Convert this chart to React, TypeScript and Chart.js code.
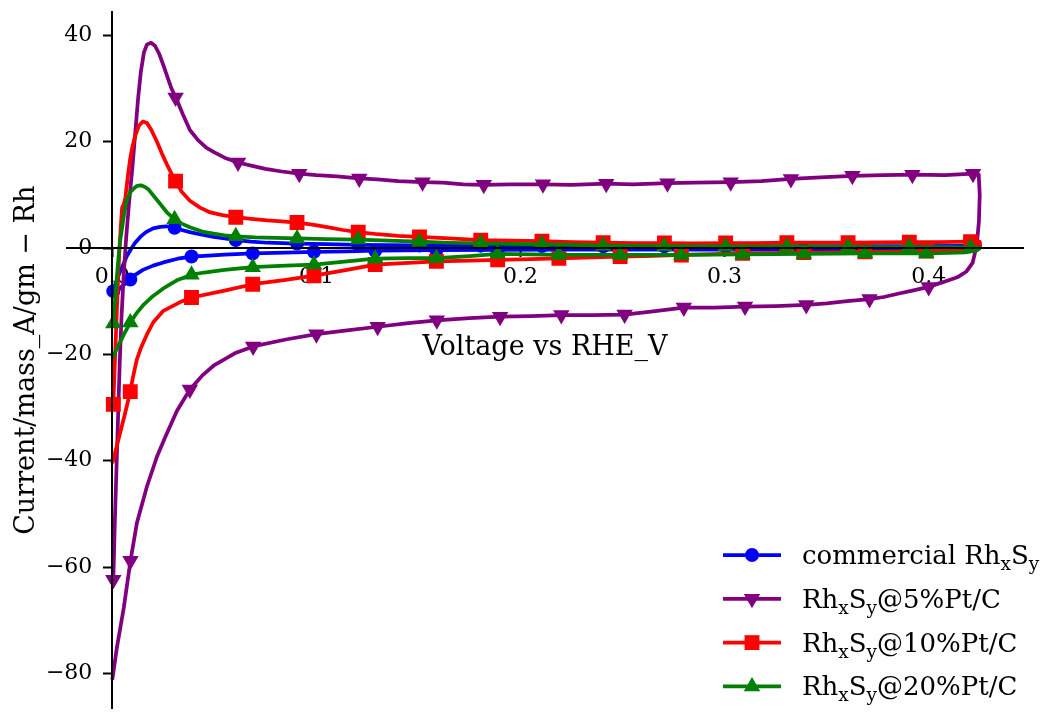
import React, { useEffect, useRef } from 'react';
import { Chart, registerables } from 'chart.js';

Chart.register(...registerables);

// ---------- axis data ----------
const xTicks = [0, 0.1, 0.2, 0.3, 0.4];
const xTickLabels = ['0.0', '0.1', '0.2', '0.3', '0.4'];
const yTicks = [-80, -60, -40, -20, 0, 20, 40];
const yTickLabels = ['\u221280', '\u221260', '\u221240', '\u221220', '0', '20', '40'];
const xRange = [-0.0222, 0.4462];
const yRange = [-86.6, 44.4];
const xTitle = 'Voltage vs RHE_V';
const yTitle = 'Current/mass_A/gm \u2212 Rh';

// ---------- series data (voltage V, current A/g) ----------
const commercialCurve: number[][] = [
  [0.0005, -8.1], [0.0015, -6.8], [0.003, -5.2], [0.0045, -3.8], [0.0056, -2.9], [0.007, -1.6], [0.0088, -0.4],
  [0.011, 0.9], [0.0137, 2.1], [0.0165, 3.0], [0.02, 3.7], [0.0235, 4.0], [0.0268, 4.1], [0.0305, 3.8],
  [0.034, 3.4], [0.038, 3.0], [0.044, 2.5], [0.0497, 2.1], [0.055, 1.8], [0.0605, 1.5], [0.068, 1.2],
  [0.076, 1.0], [0.0905, 0.85], [0.105, 0.75], [0.1205, 0.6], [0.135, 0.55], [0.1505, 0.5], [0.165, 0.45],
  [0.1805, 0.45], [0.195, 0.4], [0.2105, 0.4], [0.2405, 0.35], [0.2705, 0.35], [0.3005, 0.35], [0.3305, 0.35],
  [0.3605, 0.35], [0.3905, 0.35], [0.4205, 0.4], [0.425, 0.4],
  [0.4248, 0.0], [0.422, -0.2], [0.41, -0.25], [0.3988, -0.3], [0.3688, -0.3], [0.3388, -0.3], [0.3088, -0.3],
  [0.2788, -0.3], [0.2488, -0.3], [0.2188, -0.3], [0.1888, -0.35], [0.1588, -0.4], [0.1288, -0.5], [0.115, -0.6],
  [0.0988, -0.7], [0.085, -0.85], [0.0688, -1.0], [0.055, -1.25], [0.045, -1.45], [0.0388, -1.6], [0.032, -2.0],
  [0.025, -2.7], [0.02, -3.3], [0.015, -4.1], [0.011, -5.1], [0.0088, -5.9], [0.006, -6.8], [0.003, -7.8], [0.0, -8.6],
];
const commercialMarkers: number[][] = [
  [0.0005, -8.1], [0.0305, 3.8], [0.0605, 1.5], [0.0905, 0.85], [0.1205, 0.6], [0.1505, 0.5], [0.1805, 0.45],
  [0.2105, 0.4], [0.2405, 0.35], [0.2705, 0.35], [0.3005, 0.35], [0.3305, 0.35], [0.3605, 0.35], [0.3905, 0.35],
  [0.4205, 0.4], [0.3988, -0.3], [0.3688, -0.3], [0.3388, -0.3], [0.3088, -0.3], [0.2788, -0.3], [0.2488, -0.3],
  [0.2188, -0.3], [0.1888, -0.35], [0.1588, -0.4], [0.1288, -0.5], [0.0988, -0.7], [0.0688, -1.0], [0.0388, -1.6],
  [0.0088, -5.9],
];

const pt5Curve: number[][] = [
  [0.0005, -62.4], [0.0012, -52], [0.002, -42], [0.0028, -32], [0.0036, -22], [0.0045, -13], [0.0056, -5],
  [0.0068, 2], [0.0082, 8.5], [0.0098, 15], [0.0113, 21.9], [0.0126, 28], [0.014, 33.2], [0.0155, 36.8],
  [0.017, 38.3], [0.019, 38.6], [0.021, 38.0], [0.023, 36.5], [0.025, 34.4], [0.027, 32.2], [0.029, 30.0],
  [0.0317, 27.8], [0.0345, 25.2], [0.038, 22.2], [0.042, 20.3], [0.046, 18.9], [0.05, 18.0], [0.055, 17.0],
  [0.0616, 16.1], [0.068, 15.5], [0.075, 14.9], [0.083, 14.4], [0.0916, 14.0], [0.1, 13.7], [0.11, 13.5],
  [0.121, 13.1], [0.13, 12.9], [0.14, 12.6], [0.152, 12.4], [0.162, 12.3], [0.172, 12.0], [0.182, 11.9],
  [0.195, 12.0], [0.211, 12.0], [0.225, 11.9], [0.242, 12.1], [0.255, 12.0], [0.272, 12.2], [0.285, 12.3],
  [0.303, 12.4], [0.318, 12.6], [0.3325, 13.0], [0.347, 13.3], [0.3626, 13.6], [0.378, 13.7], [0.392, 13.8],
  [0.408, 13.7], [0.4217, 14.0], [0.4245, 13.8], [0.425, 10.0], [0.4246, 5.0], [0.4235, 0.5], [0.4215, -2.8],
  [0.4185, -4.4], [0.414, -5.5], [0.408, -6.3], [0.4, -7.3], [0.392, -8.0], [0.386, -8.5], [0.378, -9.2],
  [0.371, -9.6], [0.36, -10.0], [0.35, -10.4], [0.34, -10.7], [0.325, -10.9], [0.31, -11.0], [0.295, -11.2],
  [0.28, -11.2], [0.265, -11.9], [0.251, -12.5], [0.235, -12.6], [0.22, -12.6], [0.205, -12.8], [0.19, -12.9],
  [0.175, -13.2], [0.159, -13.6], [0.145, -14.1], [0.13, -14.8], [0.115, -15.5], [0.1, -16.2], [0.085, -17.2],
  [0.069, -18.5], [0.06, -19.8], [0.05, -22.0], [0.044, -24.0], [0.038, -26.6], [0.0317, -30.6], [0.026, -35.5],
  [0.0219, -39.2], [0.017, -44.8], [0.0121, -51.6], [0.0089, -58.8], [0.0056, -67.7], [0.0023, -75.0], [0.0, -81.2],
];
const pt5Markers: number[][] = [
  [0.0005, -62.4], [0.031, 28.3], [0.0616, 16.1], [0.0916, 14.0], [0.121, 13.1], [0.152, 12.4], [0.182, 11.9],
  [0.211, 12.0], [0.242, 12.1], [0.272, 12.2], [0.303, 12.4], [0.3325, 13.0], [0.3626, 13.6], [0.392, 13.8],
  [0.4217, 14.0], [0.4, -7.3], [0.371, -9.6], [0.34, -10.7], [0.31, -11.0], [0.28, -11.2], [0.251, -12.5],
  [0.22, -12.6], [0.19, -12.9], [0.159, -13.6], [0.13, -14.8], [0.1, -16.2], [0.069, -18.5], [0.038, -26.6],
  [0.0089, -58.8],
];

const pt10Curve: number[][] = [
  [0.0005, -29.4], [0.0012, -22], [0.002, -14], [0.0028, -6], [0.0036, 0.5], [0.0044, 5.5], [0.0048, 7.6],
  [0.0056, 8.2], [0.0064, 9.5], [0.0076, 13.5], [0.0088, 16.9], [0.01, 19.3], [0.0113, 21.2], [0.013, 23.0],
  [0.015, 23.8], [0.017, 23.5], [0.019, 22.3], [0.0219, 20.0], [0.0245, 17.6], [0.0268, 15.7], [0.029, 14.0],
  [0.031, 12.6], [0.034, 10.6], [0.038, 8.9], [0.043, 7.6], [0.048, 6.7], [0.054, 6.2], [0.0605, 5.8],
  [0.068, 5.5], [0.076, 5.2], [0.083, 5.0], [0.0905, 4.8], [0.098, 4.4], [0.106, 3.9], [0.113, 3.4],
  [0.1205, 3.0], [0.13, 2.6], [0.14, 2.3], [0.1505, 2.1], [0.165, 1.8], [0.1805, 1.5], [0.195, 1.4],
  [0.2105, 1.3], [0.225, 1.1], [0.2405, 1.0], [0.255, 0.95], [0.2705, 0.95], [0.285, 0.9], [0.3005, 0.95],
  [0.315, 0.95], [0.3305, 1.0], [0.345, 1.0], [0.3605, 1.0], [0.375, 1.05], [0.3905, 1.1], [0.405, 1.1],
  [0.4205, 1.2], [0.425, 1.2], [0.4252, 0.3], [0.4235, -0.2], [0.42, -0.4], [0.41, -0.5], [0.3988, -0.55],
  [0.385, -0.65], [0.3688, -0.7], [0.355, -0.8], [0.3388, -0.85], [0.325, -0.95], [0.3088, -1.0], [0.295, -1.15],
  [0.2788, -1.3], [0.265, -1.45], [0.2488, -1.6], [0.235, -1.75], [0.2188, -1.95], [0.205, -2.1], [0.1888, -2.2],
  [0.175, -2.35], [0.1588, -2.5], [0.145, -2.8], [0.1288, -3.1], [0.115, -4.1], [0.0988, -5.2], [0.085, -6.0],
  [0.0688, -6.8], [0.055, -8.0], [0.0388, -9.3], [0.033, -10.2], [0.025, -11.8], [0.02, -14.0], [0.017, -16.2],
  [0.014, -18.8], [0.012, -21.0], [0.01, -24.5], [0.0088, -27.0], [0.006, -31.5], [0.003, -36.0], [0.0, -40.5],
];
const pt10Markers: number[][] = [
  [0.0005, -29.4], [0.031, 12.6], [0.0605, 5.8], [0.0905, 4.8], [0.1205, 3.0], [0.1505, 2.1], [0.1805, 1.5],
  [0.2105, 1.3], [0.2405, 1.0], [0.2705, 0.95], [0.3005, 0.95], [0.3305, 1.0], [0.3605, 1.0], [0.3905, 1.1],
  [0.4205, 1.2], [0.3988, -0.55], [0.3688, -0.7], [0.3388, -0.85], [0.3088, -1.0], [0.2788, -1.3], [0.2488, -1.6],
  [0.2188, -1.95], [0.1888, -2.2], [0.1588, -2.5], [0.1288, -3.1], [0.0988, -5.2], [0.0688, -6.8], [0.0388, -9.3],
  [0.0088, -27.0],
];

const pt20Curve: number[][] = [
  [0.0005, -14.2], [0.0013, -10], [0.0022, -5.5], [0.0032, -1], [0.004, 1.8], [0.0047, 3.6], [0.0058, 6.5],
  [0.0072, 9.2], [0.0088, 10.5], [0.0105, 11.2], [0.0122, 11.7], [0.014, 11.8], [0.016, 11.5], [0.0178, 11.0],
  [0.0205, 9.7], [0.0235, 8.3], [0.027, 6.6], [0.0305, 5.4], [0.034, 4.6], [0.038, 3.9], [0.044, 3.1],
  [0.0497, 2.7], [0.055, 2.4], [0.0605, 2.2], [0.07, 2.0], [0.08, 1.9], [0.0905, 1.8], [0.105, 1.7],
  [0.1205, 1.6], [0.135, 1.4], [0.1505, 1.2], [0.165, 1.0], [0.1805, 0.9], [0.195, 0.8], [0.2105, 0.7],
  [0.225, 0.6], [0.2405, 0.45], [0.255, 0.4], [0.2705, 0.35], [0.285, 0.3], [0.3005, 0.3], [0.315, 0.25],
  [0.3305, 0.25], [0.345, 0.25], [0.3605, 0.2], [0.375, 0.2], [0.3905, 0.2], [0.405, 0.2], [0.4205, 0.15],
  [0.425, 0.15], [0.4248, -0.1], [0.423, -0.5], [0.418, -0.8], [0.41, -0.9], [0.3988, -1.0], [0.385, -1.0],
  [0.3688, -1.0], [0.355, -1.05], [0.3388, -1.1], [0.325, -1.15], [0.3088, -1.2], [0.295, -1.25], [0.2788, -1.3],
  [0.265, -1.3], [0.2488, -1.3], [0.235, -1.3], [0.2188, -1.3], [0.205, -1.2], [0.1888, -1.1], [0.175, -1.5],
  [0.1588, -1.9], [0.145, -1.9], [0.1288, -2.0], [0.115, -2.5], [0.0988, -3.1], [0.085, -3.3], [0.0688, -3.6],
  [0.055, -4.1], [0.045, -4.6], [0.0388, -5.0], [0.032, -6.0], [0.025, -7.6], [0.02, -9.0], [0.015, -10.8],
  [0.012, -12.2], [0.0088, -14.0], [0.006, -16.0], [0.003, -18.3], [0.0, -20.7],
];
const pt20Markers: number[][] = [
  [0.0005, -14.2], [0.0305, 5.4], [0.0605, 2.2], [0.0905, 1.8], [0.1205, 1.6], [0.1505, 1.2], [0.1805, 0.9],
  [0.2105, 0.7], [0.2405, 0.45], [0.2705, 0.35], [0.3005, 0.3], [0.3305, 0.25], [0.3605, 0.2], [0.3905, 0.2],
  [0.4205, 0.15], [0.3988, -1.0], [0.3688, -1.0], [0.3388, -1.1], [0.3088, -1.2], [0.2788, -1.3], [0.2488, -1.3],
  [0.2188, -1.3], [0.1888, -1.1], [0.1588, -1.9], [0.1288, -2.0], [0.0988, -3.1], [0.0688, -3.6], [0.0388, -5.0],
  [0.0088, -14.0],
];

// legend labels: [text, isSubscript]
const legendLabels: [string, boolean][][] = [
  [['commercial Rh', false], ['x', true], ['S', false], ['y', true]],
  [['Rh', false], ['x', true], ['S', false], ['y', true], ['@5%Pt/C', false]],
  [['Rh', false], ['x', true], ['S', false], ['y', true], ['@10%Pt/C', false]],
  [['Rh', false], ['x', true], ['S', false], ['y', true], ['@20%Pt/C', false]],
];

const FONT = "'DejaVu Serif', 'Liberation Serif', serif";

type SeriesDef = {
  curve: number[][];
  markers: number[][];
  color: string;
  style: string;
  rotation: number;
  radius: number;
};

const seriesDefs: SeriesDef[] = [
  { curve: commercialCurve, markers: commercialMarkers, color: '#0000ff', style: 'circle', rotation: 0, radius: 7 },
  { curve: pt5Curve, markers: pt5Markers, color: '#800080', style: 'triangle', rotation: 180, radius: 9.5 },
  { curve: pt10Curve, markers: pt10Markers, color: '#ff0000', style: 'rect', rotation: 0, radius: 10.5 },
  { curve: pt20Curve, markers: pt20Markers, color: '#008000', style: 'triangle', rotation: 0, radius: 9.5 },
];

function drawMarker(ctx: CanvasRenderingContext2D, s: SeriesDef, x: number, y: number) {
  ctx.beginPath();
  if (s.style === 'circle') {
    ctx.arc(x, y, s.radius, 0, Math.PI * 2);
  } else if (s.style === 'rect') {
    const h = s.radius * Math.SQRT1_2;
    ctx.rect(x - h, y - h, 2 * h, 2 * h);
  } else {
    let rad = (s.rotation * Math.PI) / 180;
    for (let k = 0; k < 3; k++) {
      const px = x + Math.sin(rad) * s.radius;
      const py = y - Math.cos(rad) * s.radius;
      if (k === 0) ctx.moveTo(px, py);
      else ctx.lineTo(px, py);
      rad += (2 * Math.PI) / 3;
    }
    ctx.closePath();
  }
  ctx.fillStyle = s.color;
  ctx.fill();
}

const decorPlugin = {
  id: 'decor',
  beforeDatasetsDraw(chart: any) {
    const ctx: CanvasRenderingContext2D = chart.ctx;
    const xs = chart.scales.x;
    const ys = chart.scales.y;
    const area = chart.chartArea;
    const x0 = xs.getPixelForValue(0);
    const y0 = ys.getPixelForValue(0);
    ctx.save();
    ctx.fillStyle = '#000';
    ctx.font = `22px ${FONT}`;
    ctx.textAlign = 'right';
    ctx.textBaseline = 'middle';
    yTicks.forEach((v, i) => {
      ctx.fillText(yTickLabels[i], x0 - 20, ys.getPixelForValue(v));
    });
    ctx.font = `27px ${FONT}`;
    ctx.textAlign = 'center';
    ctx.textBaseline = 'alphabetic';
    ctx.fillText(xTitle, (area.left + area.right) / 2, y0 + 107);
    ctx.save();
    ctx.translate(34, (area.top + area.bottom) / 2);
    ctx.rotate(-Math.PI / 2);
    ctx.fillText(yTitle, 0, 0);
    ctx.restore();
    ctx.restore();
  },
  afterDraw(chart: any) {
    const ctx: CanvasRenderingContext2D = chart.ctx;
    ctx.save();
    const lx0 = 723;
    const lx1 = 781;
    const tx = 802;
    seriesDefs.forEach((s, i) => {
      const ry = 555 + 43.8 * i;
      ctx.strokeStyle = s.color;
      ctx.lineWidth = 3.75;
      ctx.beginPath();
      ctx.moveTo(lx0, ry);
      ctx.lineTo(lx1, ry);
      ctx.stroke();
      drawMarker(ctx, s, (lx0 + lx1) / 2, ry);
      let cx = tx;
      ctx.fillStyle = '#000';
      ctx.textAlign = 'left';
      ctx.textBaseline = 'alphabetic';
      legendLabels[i].forEach(([t, sub]) => {
        ctx.font = sub ? `18.5px ${FONT}` : `26px ${FONT}`;
        ctx.fillText(t, cx, ry + 9 + (sub ? 6 : 0));
        cx += ctx.measureText(t).width;
      });
    });
    ctx.restore();
  },
};

export default function App() {
  const ref = useRef<HTMLCanvasElement | null>(null);
  useEffect(() => {
    if (!ref.current) return;
    const datasets: any[] = [];
    const n = seriesDefs.length;
    seriesDefs.forEach((s, i) => {
      const base = (n - i) * 2;
      datasets.push({
        data: s.curve.map(([x, y]) => ({ x, y })),
        showLine: true,
        borderColor: s.color,
        backgroundColor: s.color,
        borderWidth: 3.75,
        borderJoinStyle: 'round',
        pointRadius: 0,
        pointHoverRadius: 0,
        tension: 0,
        fill: false,
        order: base,
      });
      datasets.push({
        data: s.markers.map(([x, y]) => ({ x, y })),
        showLine: false,
        pointStyle: s.style,
        pointRotation: s.rotation,
        pointRadius: s.radius,
        pointHoverRadius: s.radius,
        pointBackgroundColor: s.color,
        pointBorderColor: s.color,
        pointBorderWidth: 0,
        order: base - 1,
      });
    });
    const chart = new Chart(ref.current, {
      type: 'scatter',
      data: { datasets },
      options: {
        animation: false,
        responsive: false,
        events: [],
        layout: { padding: { left: 67, top: 12, right: 24, bottom: 0 } },
        plugins: { legend: { display: false }, tooltip: { enabled: false } },
        scales: {
          x: {
            type: 'linear',
            position: { y: 0 },
            min: xRange[0],
            max: xRange[1],
            afterFit: (sc: any) => { sc.height = 0; },
            afterBuildTicks: (sc: any) => { sc.ticks = xTicks.map((v) => ({ value: v })); },
            ticks: {
              callback: (_v: any, idx: number) => xTickLabels[idx],
              font: { family: FONT, size: 22 },
              color: '#000',
              padding: 8,
              maxRotation: 0,
              autoSkip: false,
            },
            grid: { display: true, drawOnChartArea: false, drawTicks: true, tickLength: 8, tickWidth: 2, tickColor: '#000' },
            border: { display: true, color: '#000', width: 2, z: 1 },
            title: { display: false },
          },
          y: {
            type: 'linear',
            position: { x: 0 },
            min: yRange[0],
            max: yRange[1],
            afterFit: (sc: any) => { sc.width = 0; },
            afterBuildTicks: (sc: any) => { sc.ticks = yTicks.map((v) => ({ value: v })); },
            ticks: { display: false },
            grid: { display: true, drawOnChartArea: false, drawTicks: true, tickLength: 8, tickWidth: 2, tickColor: '#000' },
            border: { display: true, color: '#000', width: 2, z: 1 },
            title: { display: false },
          },
        },
      } as any,
      plugins: [decorPlugin],
    });
    return () => chart.destroy();
  }, []);
  return (
    <div style={{ position: 'fixed', left: 0, top: 0, width: 1047, height: 719, background: '#fff' }}>
      <canvas ref={ref} width={1047} height={719} style={{ display: 'block' }} />
    </div>
  );
}
